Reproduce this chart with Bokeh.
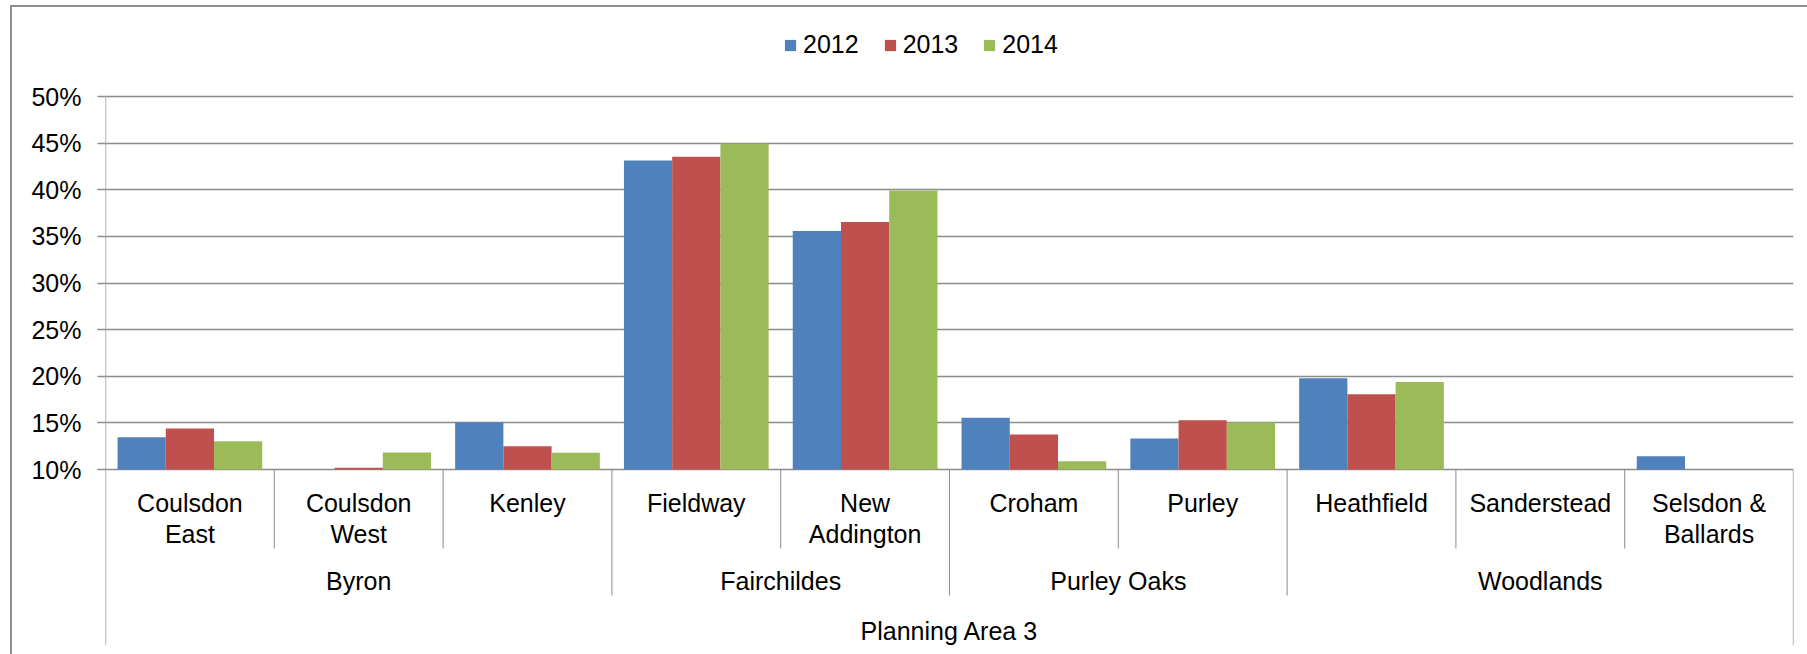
from bokeh.plotting import figure
from bokeh.models import (ColumnDataSource, FactorRange, FixedTicker, NumeralTickFormatter,
                          Legend, LegendItem, Range1d, InlineStyleSheet)
from bokeh.transform import dodge
from bokeh.embed import file_html
from bokeh.resources import INLINE
from bokeh.core.properties import value

# ---------------- data ----------------
NaN = float("nan")
wards = ["Coulsdon East", "Coulsdon West", "Kenley", "Fieldway", "New Addington",
         "Croham", "Purley", "Heathfield", "Sanderstead", "Selsdon & Ballards"]
ward_labels = ["Coulsdon\nEast", "Coulsdon\nWest", "Kenley", "Fieldway", "New\nAddington",
               "Croham", "Purley", "Heathfield", "Sanderstead", "Selsdon &\nBallards"]
groups = ["Byron", "Byron", "Byron", "Fairchildes", "Fairchildes",
          "Purley Oaks", "Purley Oaks", "Woodlands", "Woodlands", "Woodlands"]
area = "Planning Area 3"
years = ["2012", "2013", "2014"]
v2012 = [0.1346, NaN, 0.1507, 0.4314, 0.3557, 0.1554, 0.1332, 0.1979, NaN, 0.1143]
v2013 = [0.1439, 0.1018, 0.1250, 0.4354, 0.3654, 0.1375, 0.1529, 0.1807, NaN, NaN]
v2014 = [0.1304, 0.1182, 0.1179, 0.4493, 0.3993, 0.1089, 0.1504, 0.1939, NaN, NaN]
y_ticks = [0.10, 0.15, 0.20, 0.25, 0.30, 0.35, 0.40, 0.45, 0.50]

# ---------------- layout / style ----------------
colors = ["#4F81BD", "#C0504D", "#9BBB59"]
FONT = "Liberation Sans"
FS = "25px"
GRID = "#8c8c8c"
W, H = 1807, 654
FL, FR, FT, FB = 105, 1793, 0, 645           # frame edges in px
TOP_PX, BASE_PX = 96, 469                    # px rows of the 50% and 10% lines
Y_MIN, Y_MAX = y_ticks[0], y_ticks[-1]
ppu = (BASE_PX - TOP_PX) / (Y_MAX - Y_MIN)   # px per unit


def y_at(px):
    """data y for a pixel row"""
    return Y_MIN - (px - BASE_PX) / ppu


y_lo, y_hi = y_at(FB), y_at(FT)

p = figure(width=W, height=H, title=None,
           x_range=FactorRange(*wards, range_padding=0, factor_padding=0),
           y_range=Range1d(y_lo, y_hi),
           output_backend="svg", toolbar_location=None, x_axis_location=None,
           min_border_left=FL, min_border_right=W - FR,
           min_border_top=FT, min_border_bottom=H - FB)
p.outline_line_color = None
p.background_fill_color = "white"
p.border_fill_color = "white"
p.xgrid.visible = False
p.ygrid.ticker = FixedTicker(ticks=y_ticks)
p.ygrid.grid_line_color = GRID
p.ygrid.grid_line_width = 1.3

ax = p.yaxis[0]
ax.ticker = FixedTicker(ticks=y_ticks)
ax.formatter = NumeralTickFormatter(format="0%")
ax.major_tick_out = 8
ax.major_tick_in = 0
ax.minor_tick_out = 0
ax.minor_tick_in = 0
ax.axis_line_color = None
ax.major_tick_line_color = GRID
ax.major_tick_line_width = 1.3
ax.major_label_standoff = 16
ax.major_label_text_font = FONT
ax.major_label_text_font_size = FS
ax.major_label_text_color = "black"

# bars
src = ColumnDataSource(dict(ward=wards, y2012=v2012, y2013=v2013, y2014=v2014))
bw = 1 / 3.5
renderers = []
for i, (yr, col) in enumerate(zip(years, colors)):
    r = p.vbar(x=dodge("ward", (i - 1) * bw, range=p.x_range), top="y" + yr,
               bottom=Y_MIN, width=bw, source=src, fill_color=col, line_color=None)
    renderers.append(r)

# value-axis line and category separators
n = len(wards)
p.segment(x0=[0], y0=[Y_MAX], x1=[0], y1=[y_lo], line_color=GRID, line_width=1.3)
inner = [i for i in range(1, n) if groups[i] == groups[i - 1]]
outer = [i for i in range(1, n) if groups[i] != groups[i - 1]]
p.segment(x0=inner, y0=[Y_MIN] * len(inner), x1=inner, y1=[y_at(548)] * len(inner),
          line_color=GRID, line_width=1)
p.segment(x0=outer, y0=[Y_MIN] * len(outer), x1=outer, y1=[y_at(595)] * len(outer),
          line_color=GRID, line_width=1)
p.segment(x0=[n], y0=[Y_MIN], x1=[n], y1=[y_lo], line_color=GRID, line_width=1.3)

# category labels
line1 = [l.split("\n")[0] for l in ward_labels]
line2 = [l.split("\n")[1] if "\n" in l else "" for l in ward_labels]
txt = dict(text_align="center", text_baseline="middle", text_font=value(FONT),
           text_font_size=FS, text_color="black")
p.text(x=wards, y=[y_at(502)] * n, text=line1, **txt)
p.text(x=wards, y=[y_at(533)] * n, text=line2, **txt)

gnames, gcent = [], []
for g in dict.fromkeys(groups):
    idx = [i for i, gg in enumerate(groups) if gg == g]
    gnames.append(g)
    gcent.append((idx[0] + idx[-1] + 1) / 2)
p.text(x=gcent, y=[y_at(580)] * len(gnames), text=gnames, **txt)
p.text(x=[n / 2], y=[y_at(630)], text=[area], **txt)

# legend (inside the frame, above the plot area)
LEG_H = 28
legend = Legend(items=[LegendItem(label=yr, renderers=[r]) for yr, r in zip(years, renderers)],
                orientation="horizontal", location=(783 - FL, FB - 31 - LEG_H),
                glyph_width=14, glyph_height=14, label_standoff=6, spacing=24,
                padding=0, margin=0, border_line_color=None, background_fill_alpha=0,
                label_text_font=FONT, label_text_font_size=FS, label_height=LEG_H,
                label_text_color="black")
p.add_layout(legend)

# outer chart border (left and top edges of the chart area)
p.stylesheets = [InlineStyleSheet(css=(
    ":host::after{content:'';position:absolute;left:10px;top:5px;right:0;bottom:0;"
    "border-left:2px solid #8e8e8e;border-top:2px solid #8e8e8e;"
    "box-sizing:border-box;pointer-events:none;}"))]

open("out.html", "w").write(file_html(p, INLINE))
